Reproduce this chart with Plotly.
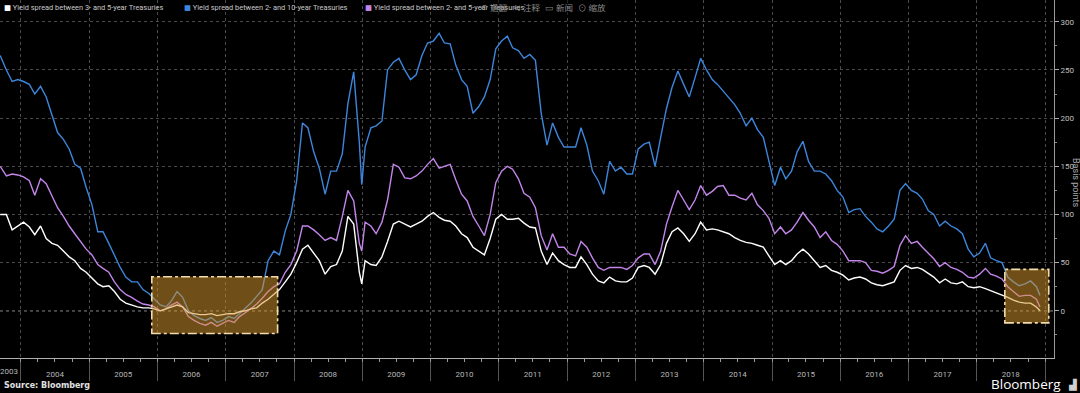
import plotly.graph_objects as go

# ---------------- data ----------------
DATES = [
    "2003-09-12", "2003-10-15", "2003-11-15", "2003-12-15",
    "2004-01-15", "2004-02-15", "2004-03-15", "2004-04-15", "2004-05-15", "2004-06-15",
    "2004-07-15", "2004-08-15", "2004-09-15", "2004-10-15", "2004-11-15", "2004-12-15",
    "2005-01-15", "2005-02-15", "2005-03-15", "2005-04-15", "2005-05-15", "2005-06-15",
    "2005-07-15", "2005-08-15", "2005-09-15", "2005-10-15", "2005-11-15", "2005-12-15",
    "2006-01-15", "2006-02-15", "2006-03-15", "2006-04-15", "2006-05-15", "2006-06-15",
    "2006-07-15", "2006-08-15", "2006-09-15", "2006-10-15", "2006-11-15", "2006-12-15",
    "2007-01-15", "2007-02-15", "2007-03-15", "2007-04-15", "2007-05-15", "2007-06-15",
    "2007-07-15", "2007-08-15", "2007-09-15", "2007-10-15", "2007-11-15", "2007-12-15",
    "2008-01-15", "2008-02-15", "2008-03-15", "2008-04-15", "2008-05-15", "2008-06-15",
    "2008-07-15", "2008-08-15", "2008-09-15", "2008-10-15", "2008-11-15", "2008-12-15",
    "2008-12-28",
    "2009-01-15", "2009-02-15", "2009-03-15", "2009-04-15", "2009-05-15", "2009-06-15",
    "2009-07-15", "2009-08-15", "2009-09-15", "2009-10-15", "2009-11-15", "2009-12-15",
    "2010-01-15", "2010-02-15", "2010-03-15", "2010-04-15", "2010-05-15", "2010-06-15",
    "2010-07-15", "2010-08-15", "2010-09-15", "2010-10-15", "2010-11-15", "2010-12-15",
    "2011-01-15", "2011-02-15", "2011-03-15", "2011-04-15", "2011-05-15", "2011-06-15",
    "2011-07-15", "2011-08-15", "2011-09-15", "2011-10-15", "2011-11-15", "2011-12-15",
    "2012-01-15", "2012-02-15", "2012-03-15", "2012-04-15", "2012-05-15", "2012-06-15",
    "2012-07-15", "2012-08-15", "2012-09-15", "2012-10-15", "2012-11-15", "2012-12-15",
    "2013-01-15", "2013-02-15", "2013-03-15", "2013-04-15", "2013-05-15", "2013-06-15",
    "2013-07-15", "2013-08-15", "2013-09-15", "2013-10-15", "2013-11-15", "2013-12-15",
    "2014-01-15", "2014-02-15", "2014-03-15", "2014-04-15", "2014-05-15", "2014-06-15",
    "2014-07-15", "2014-08-15", "2014-09-15", "2014-10-15", "2014-11-15", "2014-12-15",
    "2015-01-15", "2015-02-15", "2015-03-15", "2015-04-15", "2015-05-15", "2015-06-15",
    "2015-07-15", "2015-08-15", "2015-09-15", "2015-10-15", "2015-11-15", "2015-12-15",
    "2016-01-15", "2016-02-15", "2016-03-15", "2016-04-15", "2016-05-15", "2016-06-15",
    "2016-07-15", "2016-08-15", "2016-09-15", "2016-10-15", "2016-11-15", "2016-12-15",
    "2017-01-15", "2017-02-15", "2017-03-15", "2017-04-15", "2017-05-15", "2017-06-15",
    "2017-07-15", "2017-08-15", "2017-09-15", "2017-10-15", "2017-11-15", "2017-12-15",
    "2018-01-15", "2018-02-15", "2018-03-15", "2018-04-15", "2018-05-15", "2018-06-15",
    "2018-07-15", "2018-08-15", "2018-09-15", "2018-10-15", "2018-11-15", "2018-12-04",
]

SPREAD_2S10S = [
    265, 250, 238, 240,
    238, 235, 225, 233, 222, 202, 185, 178, 168, 152, 148, 128,
    110, 82, 82, 70, 58, 45, 35, 30, 30, 22, 18, 12,
    6, 4, 10, 20, 14, 0, -5, -8, -10, -7, -12, -10,
    -6, -8, -3, 2, 8, 15, 22, 52, 62, 58, 83, 100,
    135, 195, 190, 165, 148, 121, 145, 145, 163, 215, 248, 175, 131,
    170, 190, 192, 197, 250, 258, 262, 250, 240, 245, 265, 278,
    280, 288, 278, 277, 255, 240, 233, 205, 212, 222, 240, 272,
    280, 285, 273, 270, 262, 266, 260, 205, 172, 195, 180, 170,
    170, 170, 190, 172, 145, 135, 121, 155, 145, 149, 142, 142,
    168, 173, 175, 150, 180, 210, 232, 249, 235, 222, 242, 262,
    250, 240, 235, 228, 222, 214, 205, 192, 200, 188, 180, 155,
    130, 149, 137, 145, 165, 176, 155, 145, 145, 142, 135, 125,
    118, 102, 105, 106, 98, 92, 85, 82, 88, 95, 125, 132,
    125, 122, 116, 104, 100, 88, 93, 88, 85, 80, 64, 56,
    60, 70, 55, 52, 50, 35, 30, 26, 28, 31, 25, 16,
]

SPREAD_2S5S = [
    150, 140, 142, 141,
    139, 135, 120, 137, 132, 120, 107, 98, 88, 80, 72, 64,
    58, 48, 44, 40, 30, 22, 17, 14, 10, 7, 6, 4,
    0, 2, 6, 9, 4, -6, -10, -13, -15, -12, -16, -13,
    -10, -12, -6, -2, 2, 7, 13, 20, 25, 28, 40, 48,
    62, 88, 88, 84, 79, 73, 76, 73, 98, 125, 114, 70, 62,
    92, 88, 80, 92, 115, 152, 149, 138, 137, 140, 145, 152,
    158, 148, 150, 152, 136, 121, 114, 98, 88, 78, 100, 133,
    145, 150, 147, 137, 122, 118, 107, 78, 63, 80, 66, 66,
    59, 57, 72, 66, 55, 45, 42, 45, 45, 45, 43, 47,
    55, 59, 59, 48, 62, 90, 108, 125, 115, 105, 115, 130,
    120, 124, 129, 130, 120, 120, 117, 115, 122, 110, 104, 96,
    80, 87, 80, 84, 92, 102, 94, 87, 76, 82, 73, 69,
    62, 52, 52, 52, 50, 42, 41, 39, 42, 46, 68, 78,
    70, 72, 66, 60, 54, 46, 50, 45, 43, 40, 35, 34,
    38, 44, 38, 36, 33, 25, 20, 15, 16, 16, 12, 4,
]

SPREAD_3S5S = [
    100, 100, 84, 88,
    92, 87, 79, 88, 75, 70, 68, 62, 56, 52, 44, 40,
    34, 28, 25, 26, 20, 12, 8, 6, 4, 3, 3, 2,
    0, 2, 4, 6, 4, -2, -3, -4, -4, -3, -5, -4,
    -3, -3, -1, 0, 2, 3, 8, 12, 17, 22, 30, 38,
    50, 64, 68, 60, 52, 38, 46, 48, 62, 98, 90, 40, 28,
    52, 48, 47, 56, 72, 90, 93, 90, 87, 90, 93, 98,
    102, 97, 94, 93, 88, 80, 76, 66, 62, 58, 75, 95,
    100, 95, 95, 96, 91, 87, 86, 62, 48, 60, 52, 48,
    45, 45, 56, 48, 38, 31, 29, 35, 31, 30, 30, 34,
    45, 47, 45, 38, 48, 70, 82, 86, 80, 72, 80, 92,
    84, 85, 84, 82, 80, 76, 73, 71, 70, 68, 66, 57,
    48, 52, 48, 52, 59, 64, 59, 52, 45, 47, 42, 40,
    37, 32, 34, 35, 33, 29, 27, 26, 28, 30, 42, 47,
    44, 45, 43, 39, 35, 29, 33, 29, 28, 30, 25, 24,
    25, 23, 21, 18, 16, 14, 11, 9, 8, 8, 4, 0,
]

SERIES_NAMES = [
    "Yield spread between 3- and 5-year Treasuries",
    "Yield spread between 2- and 10-year Treasuries",
    "Yield spread between 2- and 5-year Treasuries",
]
YEAR_LABELS = [str(y) for y in range(2004, 2019)]
Y_TICKS = [0, 50, 100, 150, 200, 250, 300]
HIGHLIGHT_BOXES = [
    ("2005-12-01", "2007-10-05", -23.5, 35.3),
    ("2018-05-30", "2019-01-20", -12.5, 43.0),
]

# ---------------- styling ----------------
C_WHITE = "#ffffff"
C_BLUE = "#3d86dc"
C_VIOLET = "#c485ea"
BG = "#000000"
PW, PH = 1054.0, 358.0  # plot area in pixels


def px(x):
    return x / PW


def py(y):
    return (PH - y) / PH


fig = go.Figure()
fig.add_trace(go.Scatter(x=DATES, y=SPREAD_2S10S, mode="lines", name=SERIES_NAMES[1],
                         line=dict(color=C_BLUE, width=1.4)))
fig.add_trace(go.Scatter(x=DATES, y=SPREAD_2S5S, mode="lines", name=SERIES_NAMES[2],
                         line=dict(color=C_VIOLET, width=1.4)))
fig.add_trace(go.Scatter(x=DATES, y=SPREAD_3S5S, mode="lines", name=SERIES_NAMES[0],
                         line=dict(color=C_WHITE, width=1.4)))

# quarter ticks on x axis, year labels in the middle of each year
q_vals, q_text = [], []
for y in range(2004, 2020):
    for m in ("01", "04", "07", "10"):
        q_vals.append(f"{y}-{m}-01")
        q_text.append(str(y) if (m == "07" and str(y) in YEAR_LABELS) else "")

grid_c = "#4a4a4a"
fig.update_xaxes(
    type="date", range=["2003-09-11", "2019-02-17"],
    tickmode="array", tickvals=q_vals, ticktext=q_text,
    ticks="outside", ticklen=3, tickcolor="#9a9a9a", ticklabelstandoff=5,
    tickfont=dict(size=8, color="#b8b8b8", family="Roboto, DejaVu Sans"),
    showgrid=False, showline=True, linecolor="#b0b0b0", linewidth=1,
    zeroline=False,
    minor=dict(tick0="2004-01-01", dtick="M12", ticks="outside", ticklen=22,
               tickcolor="#555555", showgrid=True, gridcolor=grid_c, griddash="dot",
               gridwidth=1),
)
fig.update_yaxes(
    side="right", range=[-49, 322.6],
    tickmode="array", tickvals=Y_TICKS, ticktext=[str(v) for v in Y_TICKS],
    ticks="outside", ticklen=4, tickcolor="#b0b0b0",
    tickfont=dict(size=8, color="#c0c0c0", family="Roboto, DejaVu Sans"),
    showgrid=True, gridcolor=grid_c, griddash="dot", gridwidth=1,
    showline=True, linecolor="#9a9a9a", linewidth=1, zeroline=False,
    minor=dict(dtick=25, tick0=0, ticks="outside", ticklen=2, tickcolor="#888888",
               showgrid=False),
)

shapes = [
    # brighter dotted zero line
    dict(type="line", xref="paper", x0=0, x1=1, yref="y", y0=0, y1=0,
         line=dict(color="#d8d8d8", width=1, dash="dot"), layer="below"),
]
for x0, x1, y0, y1 in HIGHLIGHT_BOXES:
    shapes.append(dict(type="rect", xref="x", yref="y", x0=x0, x1=x1, y0=y0, y1=y1,
                       fillcolor="rgba(214,150,46,0.52)",
                       line=dict(color="#f3dcaa", width=1.6, dash="dashdot"),
                       layer="above"))
# dim overlay behind the screenshot toolbar text
shapes.append(dict(type="rect", xref="paper", yref="paper", x0=px(472), x1=px(600),
                   y0=py(16), y1=py(0), fillcolor="rgba(0,0,0,0.5)",
                   line=dict(width=0), layer="above"))

ann = []
leg_font = dict(size=7.4, color="#c8c8c8", family="Roboto, DejaVu Sans")
for xpos, col, name in [(2, C_WHITE, SERIES_NAMES[0]), (182, C_BLUE, SERIES_NAMES[1]),
                        (363, C_VIOLET, SERIES_NAMES[2])]:
    ann.append(dict(xref="paper", yref="paper", x=px(xpos), y=py(8), xanchor="left",
                    yanchor="middle", showarrow=False, font=leg_font,
                    text=f'<span style="color:{col}">■</span> {name}'))
for xpos, t in [(478, "↶ 退翻"), (511, "⊲ 注释"), (543, "▭ 新闻"), (576, "⊙ 缩放")]:
    ann.append(dict(xref="paper", yref="paper", x=px(xpos), y=py(7), xanchor="left",
                    yanchor="middle", showarrow=False, text=t,
                    font=dict(size=8.5, color="#8a8a8a", family="Noto Sans CJK SC")))
ann.append(dict(xref="paper", yref="paper", x=px(9), y=py(371), xanchor="center",
                yanchor="middle", showarrow=False, text="2003",
                font=dict(size=8, color="#b8b8b8", family="Roboto, DejaVu Sans")))
ann.append(dict(xref="paper", yref="paper", x=px(2), y=py(385), xanchor="left",
                yanchor="middle", showarrow=False, text="<b>Source: Bloomberg</b>",
                font=dict(size=8, color="#e0e0e0", family="DejaVu Sans")))
ann.append(dict(xref="paper", yref="paper", x=px(1063), y=py(384), xanchor="right",
                yanchor="middle", showarrow=False, text="Bloomberg",
                font=dict(size=13.5, color="#ffffff", family="Open Sans, Roboto")))
ann.append(dict(xref="paper", yref="paper", x=px(1072), y=py(384), xanchor="center",
                yanchor="middle", showarrow=False, text="▟",
                font=dict(size=10, color="#d0d0d0", family="DejaVu Sans")))
ann.append(dict(xref="paper", yref="paper", x=px(1076), y=py(183), xanchor="center",
                yanchor="middle", showarrow=False, text="Basis points", textangle=90,
                font=dict(size=9, color="#a8a8a8", family="Roboto, DejaVu Sans")))

fig.update_layout(
    width=1080, height=393,
    margin=dict(l=0, r=26, t=0, b=35, pad=0),
    paper_bgcolor=BG, plot_bgcolor=BG,
    showlegend=False,
    shapes=shapes, annotations=ann,
    font=dict(family="Roboto, DejaVu Sans", color="#bbbbbb", size=8),
)

fig.write_html("out.html",
               config={"displayModeBar": False},
               post_script="document.body.style.margin='0px';"
                           "document.body.style.background='#000';"
                           "document.body.style.overflow='hidden';")
